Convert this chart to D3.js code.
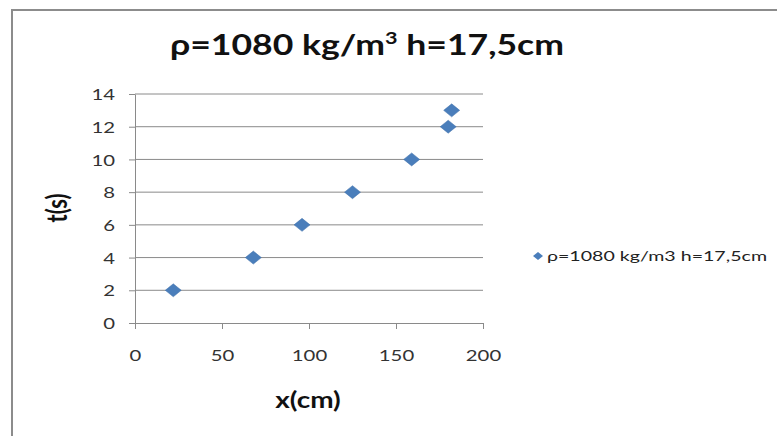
<!DOCTYPE html>
<html>
<head>
<meta charset="utf-8">
<script src="https://cdn.jsdelivr.net/npm/d3@7"></script>
<style>
  body { margin: 0; background: #fff; }
  text { font-family: Lato, "Open Sans", sans-serif; }
</style>
</head>
<body>
<svg id="chart" width="777" height="436"></svg>
<script>
// data
const xValues = [22, 68, 96, 125, 159, 180, 182];
const tValues = [2, 4, 6, 8, 10, 12, 13];
const xTicks = [0, 50, 100, 150, 200];
const yTicks = [0, 2, 4, 6, 8, 10, 12, 14];
const seriesName = "\u03c1=1080 kg/m3 h=17,5cm";

// the original picture is stretched sideways, so text is widened a bit
const stretch = 1.27;

const svg = d3.select("#chart");

// chart frame
svg.append("rect")
  .attr("x", 12).attr("y", 10)
  .attr("width", 800).attr("height", 440)
  .attr("fill", "#fff")
  .attr("stroke", "#8c8c8c")
  .attr("stroke-width", 2);

const margin = { left: 135, right: 483, top: 94, bottom: 323 };

const x = d3.scaleLinear().domain([0, 200]).range([margin.left, margin.right]);
const y = d3.scaleLinear().domain([0, 14]).range([margin.bottom, margin.top]);

// horizontal gridlines
svg.append("g")
  .selectAll("line")
  .data(yTicks.filter(d => d > 0))
  .enter()
  .append("line")
  .attr("x1", margin.left).attr("x2", margin.right)
  .attr("y1", d => y(d)).attr("y2", d => y(d))
  .attr("stroke", "#8a8a8a")
  .attr("stroke-width", 1);

// y axis
const yAxis = svg.append("g")
  .attr("transform", "translate(" + margin.left + ",0)")
  .call(d3.axisLeft(y).tickValues(yTicks).tickSize(6).tickSizeOuter(0));

// x axis
const xAxis = svg.append("g")
  .attr("transform", "translate(0," + margin.bottom + ")")
  .call(d3.axisBottom(x).tickValues(xTicks).tickSize(6).tickSizeOuter(0));

[xAxis, yAxis].forEach(g => {
  g.select(".domain").attr("stroke", "#8a8a8a");
  g.selectAll(".tick line").attr("stroke", "#8a8a8a");
  g.selectAll(".tick text")
    .attr("font-size", "16px")
    .attr("fill", "#333")
    .style("font-family", "Lato, 'Open Sans', sans-serif");
});
xAxis.selectAll(".tick text")
  .attr("y", 0).attr("dy", 0)
  .attr("transform", "translate(0,38) scale(" + stretch + ",1)");
yAxis.selectAll(".tick text")
  .attr("x", 0).attr("dy", "0.35em")
  .attr("transform", "translate(-20,0) scale(" + stretch + ",1)");

// points
const diamond = "M0,-6.5L8,0L0,6.5L-8,0Z";
svg.append("g")
  .selectAll("path")
  .data(xValues.map((v, i) => [v, tValues[i]]))
  .enter()
  .append("path")
  .attr("d", diamond)
  .attr("transform", d => "translate(" + x(d[0]) + "," + y(d[1]) + ")")
  .attr("fill", "#4a7ebb")
  .attr("stroke", "#3f6fa8")
  .attr("stroke-width", 0.5);

// title
const title = svg.append("text")
  .attr("transform", "translate(367,55) scale(" + stretch + ",1)")
  .attr("text-anchor", "middle")
  .attr("font-size", "28px")
  .attr("font-weight", "bold")
  .attr("fill", "#111");
title.append("tspan").text("\u03c1=1080 kg/m");
title.append("tspan").attr("font-size", "17px").attr("dy", -11).text("3");
title.append("tspan").attr("dy", 11).text(" h=17,5cm");

// axis titles
svg.append("text")
  .attr("transform", "translate(308,408) scale(" + stretch + ",1)")
  .attr("text-anchor", "middle")
  .attr("font-size", "22px")
  .attr("font-weight", "bold")
  .attr("fill", "#111")
  .text("x(cm)");

svg.append("text")
  .attr("transform", "translate(67,208) rotate(-90) scale(1," + stretch + ")")
  .attr("text-anchor", "middle")
  .attr("font-size", "22px")
  .attr("font-weight", "bold")
  .attr("fill", "#111")
  .text("t(s)");

// legend
const legend = svg.append("g").attr("transform", "translate(538,256)");
legend.append("path")
  .attr("d", "M0,-4L5,0L0,4L-5,0Z")
  .attr("fill", "#4a7ebb");
legend.append("text")
  .attr("x", 9).attr("y", 5)
  .attr("font-size", "14px")
  .attr("fill", "#222")
  .attr("textLength", 220)
  .attr("lengthAdjust", "spacingAndGlyphs")
  .text(seriesName);
</script>
</body>
</html>
